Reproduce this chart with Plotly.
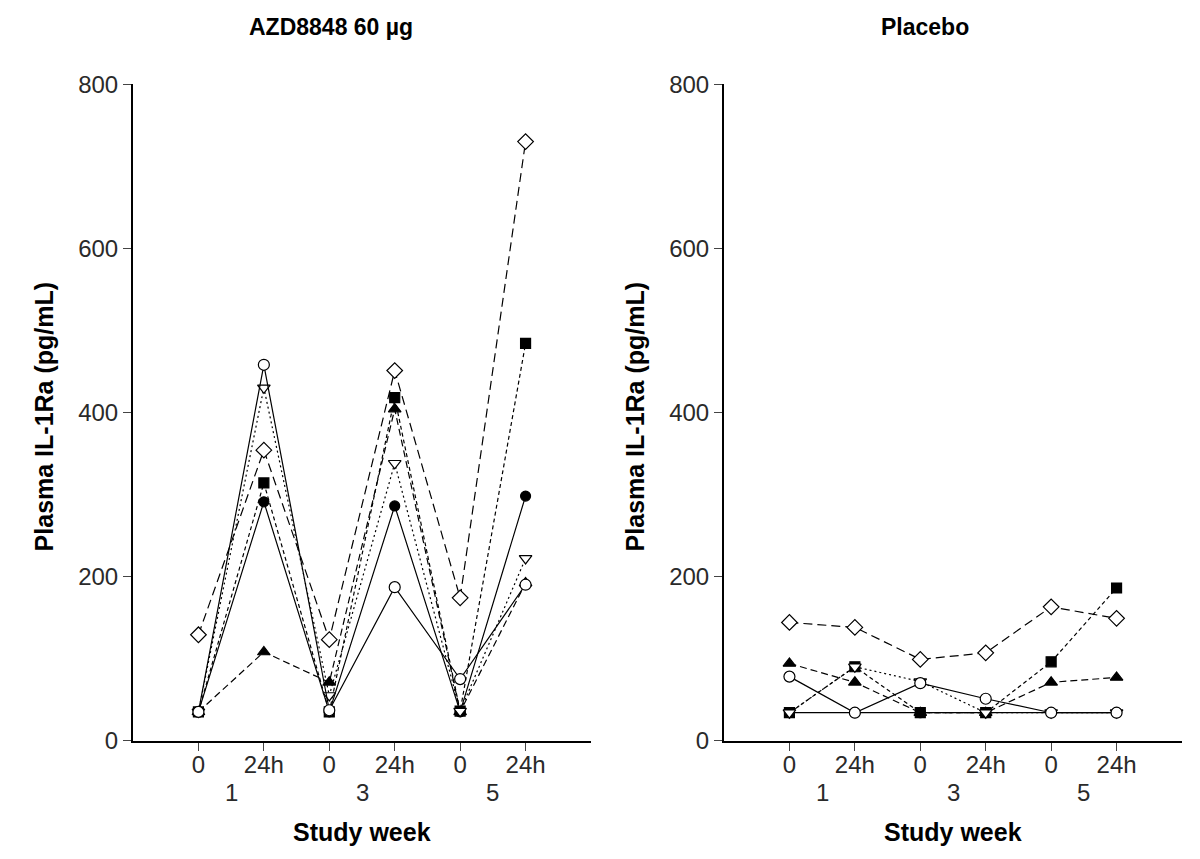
import plotly.graph_objects as go

# x positions: week 1 (0, 24h), week 3 (0, 24h), week 5 (0, 24h)
x_pos = [1, 2, 3, 4, 5, 6]
tick_text = ["0", "24h", "0", "24h", "0", "24h"]
week_labels = ["1", "3", "5"]
week_pos = [1.5, 3.5, 5.5]
y_ticks = [0, 200, 400, 600, 800]

# AZD8848 60 µg panel (pg/mL)
azd_sq_filled = [35, 314, 35, 418, 36, 484]
azd_circ_filled = [35, 291, 35, 286, 35, 298]
azd_tri_filled = [35, 108, 71, 404, 35, 192]
azd_tri_down = [35, 430, 55, 338, 36, 222]
azd_diamond = [129, 354, 123, 451, 174, 730]
azd_circ_open = [35, 458, 37, 187, 75, 190]

# Placebo panel (pg/mL)
pla_sq_filled = [34, 90, 34, 34, 96, 186]
pla_circ_filled = [34, 34, 34, 34, 34, 34]
pla_tri_filled = [94, 71, 34, 34, 71, 77]
pla_tri_down = [34, 90, 72, 34, 34, 34]
pla_diamond = [144, 138, 99, 107, 163, 149]
pla_circ_open = [78, 34, 70, 51, 34, 34]

styles = [
    ("square", "black", "4px,3px", 10),
    ("circle", "black", "solid", 10),
    ("triangle-up", "black", "7px,4px", 11),
    ("triangle-down", "white", "2px,3px", 11),
    ("diamond", "white", "9px,5px", 12),
    ("circle", "white", "solid", 11),
]

fig = go.Figure()

panels = [
    ("x", "y", [azd_sq_filled, azd_circ_filled, azd_tri_filled, azd_tri_down, azd_diamond, azd_circ_open]),
    ("x2", "y2", [pla_sq_filled, pla_circ_filled, pla_tri_filled, pla_tri_down, pla_diamond, pla_circ_open]),
]

for xa, ya, series in panels:
    for vals, (sym, fill, dash, sz) in zip(series, styles):
        fig.add_trace(go.Scatter(
            x=x_pos, y=vals, xaxis=xa, yaxis=ya, mode="lines+markers",
            line=dict(color="black", width=1.2, dash=dash),
            marker=dict(symbol=sym, size=sz, color=fill,
                        line=dict(color="black", width=1.2)),
            showlegend=False, hoverinfo="skip",
        ))

W, H = 1200, 859
# map target picture pixels to paper fractions (page offset / capture scale compensation)
def px(xp):
    return (xp - 5) / W
def py(yp):
    yp = 412 + (yp - 412) * 1.0125
    return (H - (yp - 17) / 0.98) / H

font_family = "Liberation Sans, Arial, Helvetica, sans-serif"
tick_font = dict(family=font_family, size=24, color="#2a2a2a")

xaxis_common = dict(
    range=[0, 7], tickvals=x_pos, ticktext=tick_text, ticks="outside", ticklen=8,
    tickwidth=1, tickcolor="#444", showline=True, linecolor="black", linewidth=2,
    showgrid=False, zeroline=False, tickfont=tick_font, ticklabelstandoff=-6,
)
yaxis_common = dict(
    range=[0, 800], tickvals=y_ticks, ticks="outside", ticklen=8,
    tickwidth=1, tickcolor="#444", showline=True, linecolor="black", linewidth=2,
    showgrid=False, zeroline=False, tickfont=tick_font,
)

fig.update_layout(
    width=W, height=H, margin=dict(l=0, r=0, t=0, b=0),
    paper_bgcolor="white", plot_bgcolor="white",
    xaxis=dict(domain=[px(130), px(588)], anchor="y", **xaxis_common),
    yaxis=dict(domain=[py(740), py(84)], anchor="x", **yaxis_common),
    xaxis2=dict(domain=[px(721), px(1179)], anchor="y2", **xaxis_common),
    yaxis2=dict(domain=[py(740), py(84)], anchor="x2", **yaxis_common),
)

ann = []
title_font = dict(family=font_family, size=23, color="black")
ann.append(dict(text="<b>AZD8848 60 µg</b>", x=px(328), y=py(27), xref="paper", yref="paper",
                showarrow=False, font=title_font, xanchor="center", yanchor="middle"))
ann.append(dict(text="<b>Placebo</b>", x=px(922), y=py(27), xref="paper", yref="paper",
                showarrow=False, font=title_font, xanchor="center", yanchor="middle"))
axis_title_font = dict(family=font_family, size=25, color="black")
for xp in (41, 632):
    ann.append(dict(text="<b>Plasma IL-1Ra (pg/mL)</b>", x=px(xp), y=py(416), xref="paper", yref="paper",
                    showarrow=False, font=axis_title_font, textangle=-90,
                    xanchor="center", yanchor="middle"))
for xr in ("x", "x2"):
    for lbl, pos in zip(week_labels, week_pos):
        ann.append(dict(text=lbl, x=pos, y=py(792), xref=xr, yref="paper", showarrow=False,
                        font=tick_font, xanchor="center", yanchor="middle"))
    ann.append(dict(text="<b>Study week</b>", x=3.5, y=py(831), xref=xr, yref="paper",
                    showarrow=False, font=axis_title_font, xanchor="center", yanchor="middle"))
fig.update_layout(annotations=ann)

fig.write_html("out.html", config={"displayModeBar": False})
